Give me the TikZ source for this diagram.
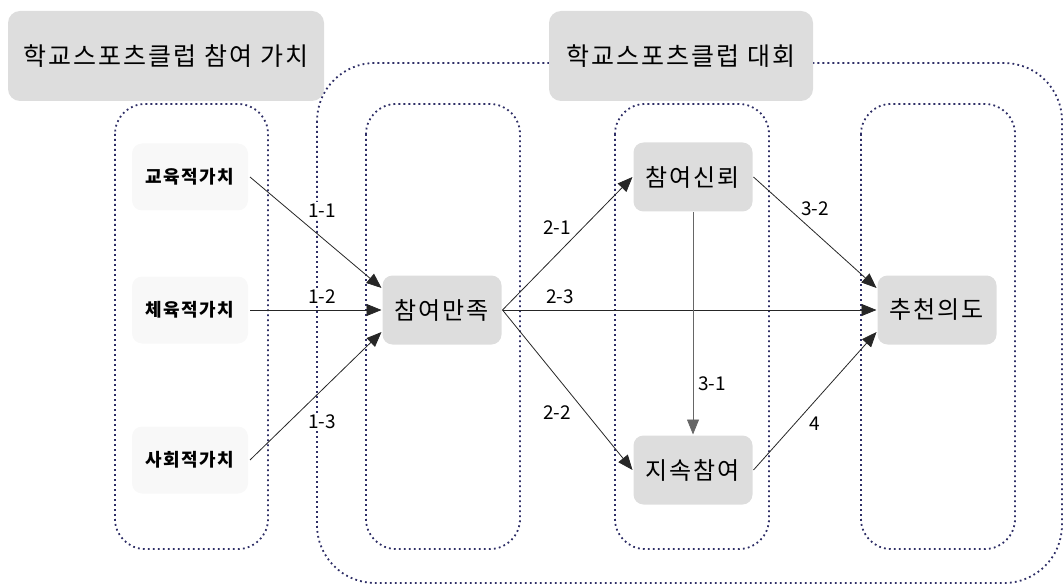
\documentclass[tikz,border=0pt]{standalone}
\usepackage{fontspec}
\setmainfont{Noto Sans CJK KR}
\newfontfamily\krwide[LetterSpace=8]{Noto Sans CJK KR}
\usepackage{tikz}
\usetikzlibrary{arrows.meta}
\definecolor{boxgray}{HTML}{DDDDDD}
\definecolor{paleGray}{HTML}{F8F8F8}
\definecolor{dotblue}{HTML}{2E2E66}
\tikzset{titlebox/.style={rounded corners=12pt, fill=boxgray, minimum width=316pt, minimum height=90pt, font=\krwide\fontsize{25}{28}\selectfont, inner sep=0pt},
mainbox/.style={rounded corners=10pt, fill=boxgray, minimum width=119pt, minimum height=69pt, font=\krwide\fontsize{24}{28}\selectfont, inner sep=0pt, outer sep=1pt},
valbox/.style={rounded corners=10pt, fill=paleGray, minimum width=116pt, minimum height=67pt, font=\krwide\bfseries\fontsize{18}{20}\selectfont, inner sep=0pt, outer sep=2pt},
group/.style={draw=dotblue, line width=1.8pt, dash pattern=on 1.8pt off 3.2pt, rounded corners=#1},
group/.default={30pt},
path/.style={draw=black!85, line width=0.8pt, -{Triangle[length=15pt,width=12pt]}},
lbl/.style={font=\fontsize{19}{21}\selectfont, fill=white, inner sep=2pt}}

\begin{document}
\begin{tikzpicture}[x=1pt,y=-1pt]
\useasboundingbox (0,0) rectangle (1064,585);
% dotted frames
\draw[group=58pt] (317,63) rectangle (1062,583);
\foreach \xa/\xb in {115/268,366/520,615/769,861/1015}
     \draw[group] (\xa,104) rectangle (\xb,549);

% headings
\node[titlebox] (head1) at (166,56) {학교스포츠클럽 참여 가치};
\node[titlebox, minimum width=264pt] (head2) at (681,56) {학교스포츠클럽 대회};

% variables
\node[valbox] (gy) at (190,177) {교육적가치};
\node[valbox] (cy) at (190,310) {체육적가치};
\node[valbox] (sh) at (190,460) {사회적가치};
\node[mainbox] (mj) at (442,310) {참여만족};
\node[mainbox] (sr) at (693,177) {참여신뢰};
\node[mainbox] (js) at (693,470) {지속참여};
\node[mainbox] (cu) at (937,310) {추천의도};

%labels
\node[lbl] (l11) at (322,211) {1-1};
\node[lbl] (l12) at (322,297) {1-2};
\node[lbl] (l13) at (322,422) {1-3};
\node[lbl] (l21) at (557,228) {2-1};
\node[lbl] (l23) at (560,297) {2-3};
\node[lbl] (l22) at (557,413) {2-2};
\node[lbl] (l32) at (815,209) {3-2};
\node[lbl] (l31) at (712,384) {3-1};
\node[lbl] (l4) at (815,424) {4};

% paths
\draw[path] (gy.east) -- (mj.160);
\draw[path] (cy.east) -- (mj.west);
\draw[path] (sh.east) -- (mj.200);
\draw[path] (mj.east) -- (sr.west);
\draw[path] (mj.east) -- (js.west);
\draw[path] (mj.east) -- (cu.west);
\draw[path, draw=black!60] (sr.south) -- (js.north);
\draw[path] (sr.east) -- (cu.160);
\draw[path] (js.east) -- (cu.200);
\end{tikzpicture}
\end{document}
